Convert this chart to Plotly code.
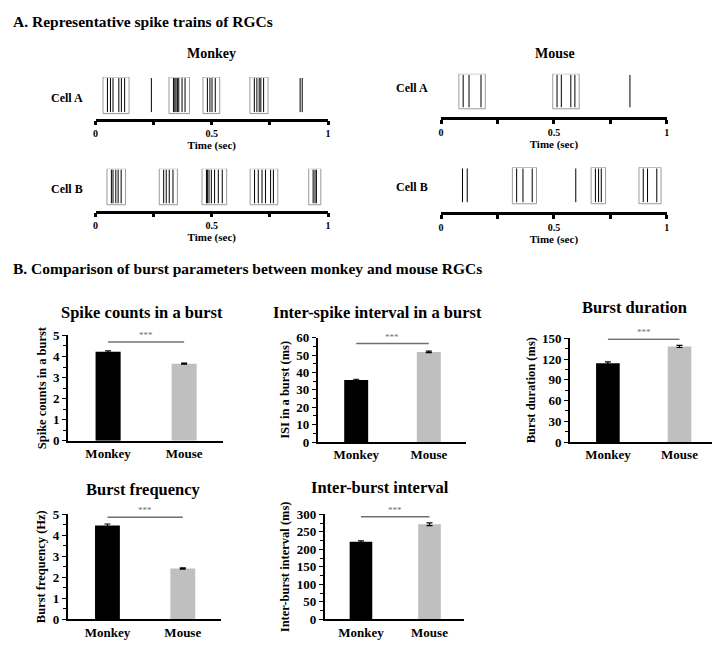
import plotly.graph_objects as go

FONT = "Liberation Serif, Times New Roman, serif"
OFF = 8                 # page body margin of the rendered html
W, H = 720 - OFF, 652 - OFF

# ---------------- Data: spike trains (seconds), grouped into bursts ----------------
monkey_A = [[0.051, 0.064, 0.075, 0.100, 0.111, 0.125], [0.240],
            [0.335, 0.341, 0.346, 0.352, 0.358, 0.372, 0.385],
            [0.481, 0.492, 0.501, 0.515], [0.683, 0.694, 0.704, 0.711, 0.723],
            [0.880, 0.889]]
monkey_B = [[0.068, 0.075, 0.087, 0.097, 0.110], [0.293, 0.304, 0.317, 0.333],
            [0.477, 0.481, 0.488, 0.498, 0.512, 0.528, 0.545],
            [0.684, 0.700, 0.716, 0.731, 0.753, 0.765], [0.936, 0.944, 0.950]]
mouse_A = [[0.098, 0.124, 0.177], [0.514, 0.533, 0.575, 0.593], [0.837]]
mouse_B = [[0.095, 0.116], [0.335, 0.363, 0.404], [0.597], [0.684, 0.698, 0.710],
           [0.896, 0.915, 0.956]]
time_tickvals = [0, 0.25, 0.5, 0.75, 1]
time_ticktext = ["0", "", "0.5", "", "1"]

# ---------------- Data: burst parameters ----------------
species = ["Monkey", "Mouse"]
titles = ["Spike counts in a burst", "Inter-spike interval in a burst", "Burst duration",
          "Burst frequency", "Inter-burst interval"]
ytitles = ["Spike counts in a burst", "ISI in a burst (ms)", "Burst duration (ms)",
           "Burst frequency (Hz)", "Inter-burst interval (ms)"]
monkey_vals = [4.22, 35.6, 113.8, 4.46, 222]
mouse_vals = [3.66, 51.8, 138.2, 2.41, 272]
monkey_err = [0.04, 0.5, 2.0, 0.07, 2.5]
mouse_err = [0.02, 0.4, 1.5, 0.03, 4.0]
ymax = [5, 60, 150, 5, 300]
ydtick = [1, 10, 30, 1, 50]
sig_y = [4.69, 56.6, 148.6, 4.85, 293]


def fx(x):
    return (x - OFF) / W


def fy(y):
    return 1 - (y - OFF) / H


def px_x(a, b):
    return [max(0, fx(a)), min(1, fx(b))]


def px_y(top, bottom):
    return [max(0, fy(bottom)), min(1, fy(top))]


fig = go.Figure()
layout = {}
annotations = []


def bold(size, color="black"):
    return dict(family=FONT, size=size, color=color, weight="bold")


# ---------------- Raster panels ----------------
rasters = [
    # data, x px range, axis y px, height px, box bottom frac, label, label pos
    (monkey_A, (93.3, 327.7), 114.0, 42.5, 0.12, "Cell A", (83, 92.7)),
    (monkey_B, (93.3, 327.7), 208.3, 43.0, 0.14, "Cell B", (83, 186)),
    (mouse_A, (441.7, 669.3), 112.7, 44.5, 0.195, "Cell A", (431, 82.7)),
    (mouse_B, (441.7, 669.3), 210.0, 46.0, 0.19, "Cell B", (431, 184)),
]
pad = 0.019
for i, (groups, (xa, xb), ax_y, hgt, b0, lab, (lx, ly)) in enumerate(rasters):
    n = i + 1
    xs = "x" if n == 1 else f"x{n}"
    ys = "y" if n == 1 else f"y{n}"
    sx, sy = [], []
    bx, by = [], []
    for g in groups:
        for t in g:
            sx += [t, t, None]
            sy += [b0 + 0.035, 0.975, None]
        if len(g) >= 3:
            a, b = min(g) - pad, max(g) + pad
            bx += [a, b, b, a, a, None]
            by += [b0, b0, 1.0, 1.0, b0, None]
    fig.add_trace(go.Scatter(x=bx, y=by, mode="lines", line=dict(color="#9a9a9a", width=1),
                             xaxis=xs, yaxis=ys, hoverinfo="skip"))
    fig.add_trace(go.Scatter(x=sx, y=sy, mode="lines", line=dict(color="black", width=1),
                             xaxis=xs, yaxis=ys, hoverinfo="skip"))
    layout["xaxis" if n == 1 else f"xaxis{n}"] = dict(
        domain=px_x(xa, xb), range=[0, 1], anchor=ys, showgrid=False, zeroline=False,
        showline=True, linecolor="black", linewidth=2.5, ticks="outside", ticklen=4,
        tickwidth=2.5, tickcolor="black", tickvals=time_tickvals, ticktext=time_ticktext,
        tickfont=bold(10),
        title=dict(text="Time (sec)", font=bold(11), standoff=0))
    layout["yaxis" if n == 1 else f"yaxis{n}"] = dict(
        domain=px_y(ax_y - hgt, ax_y), range=[0, 1], anchor=xs, visible=False)
    annotations.append(dict(x=fx(lx), y=fy(ly), xref="paper", yref="paper", text=lab,
                            showarrow=False, xanchor="right", yanchor="middle", font=bold(12)))

# ---------------- Bar panels ----------------
bar_panels = [
    # x px range, y px (top, bottom), title pos
    ((65.3, 221.7), (336.0, 444.0), (140, 312.7)),
    ((317.3, 466.7), (338.3, 445.3), (378, 312.7)),
    ((571.7, 719.0), (339.0, 445.3), (636.7, 307.3)),
    ((65.0, 220.0), (519.0, 626.7), (141.7, 494.3)),
    ((324.3, 465.3), (519.3, 626.7), (380, 491.7)),
]
for k, ((xa, xb), (yt, yb), (tx, tyy)) in enumerate(bar_panels):
    n = k + 5
    xs, ys = f"x{n}", f"y{n}"
    fig.add_trace(go.Bar(
        x=species, y=[monkey_vals[k], mouse_vals[k]], width=0.33,
        marker=dict(color=["black", "#bfbfbf"], line=dict(width=0)),
        error_y=dict(type="data", array=[monkey_err[k], mouse_err[k]], color="black",
                     thickness=1.2, width=3),
        xaxis=xs, yaxis=ys, hoverinfo="skip"))
    fig.add_trace(go.Scatter(x=species, y=[sig_y[k], sig_y[k]], mode="lines",
                             line=dict(color="#707070", width=1.5), xaxis=xs, yaxis=ys,
                             hoverinfo="skip"))
    annotations.append(dict(x=0.5, y=sig_y[k], xref=f"{xs}", yref=f"{ys}", text="***",
                            showarrow=False, yanchor="bottom", xanchor="center", yshift=0,
                            font=dict(family=FONT, size=9, color="#707070")))
    layout[f"xaxis{n}"] = dict(
        domain=px_x(xa, xb), range=[-0.53, 1.51], anchor=ys, type="category",
        showgrid=False, zeroline=False, showline=True, linecolor="black", linewidth=1.5,
        ticks="", tickfont=bold(13))
    layout[f"yaxis{n}"] = dict(
        domain=px_y(yt, yb), range=[0, ymax[k]], anchor=xs, showgrid=False, zeroline=False,
        showline=True, linecolor="black", linewidth=1.5, ticks="outside", ticklen=4,
        tickwidth=1.2, tickcolor="black", dtick=ydtick[k], tick0=0, tickfont=bold(13),
        minor=dict(ticks="outside", ticklen=3, tickwidth=1, tickcolor="black",
                   dtick=ydtick[k] / 2, showgrid=False),
        title=dict(text=ytitles[k], font=bold(12.5), standoff=4))
    annotations.append(dict(x=fx(tx), y=fy(tyy), xref="paper", yref="paper",
                            text=titles[k], showarrow=False, xanchor="center",
                            yanchor="middle", font=bold(16.5)))

# ---------------- Headings ----------------
annotations += [
    dict(x=0, y=fy(15), xref="paper", yref="paper",
         text="A. Representative spike trains of RGCs", showarrow=False,
         xanchor="left", yanchor="middle", font=bold(15.5)),
    dict(x=0, y=fy(268), xref="paper", yref="paper",
         text="B. Comparison of burst parameters between monkey and mouse RGCs",
         showarrow=False, xanchor="left", yanchor="middle", font=bold(15.5)),
    dict(x=fx(210), y=fy(47), xref="paper", yref="paper", text="Monkey",
         showarrow=False, xanchor="center", yanchor="middle", font=bold(14)),
    dict(x=fx(557), y=fy(47), xref="paper", yref="paper", text="Mouse",
         showarrow=False, xanchor="center", yanchor="middle", font=bold(14)),
]

fig.update_layout(
    width=W, height=H, margin=dict(l=0, r=0, t=0, b=0), showlegend=False,
    paper_bgcolor="white", plot_bgcolor="white", annotations=annotations,
    font=dict(family=FONT, color="black"), **layout)

fig.write_html("out.html")
